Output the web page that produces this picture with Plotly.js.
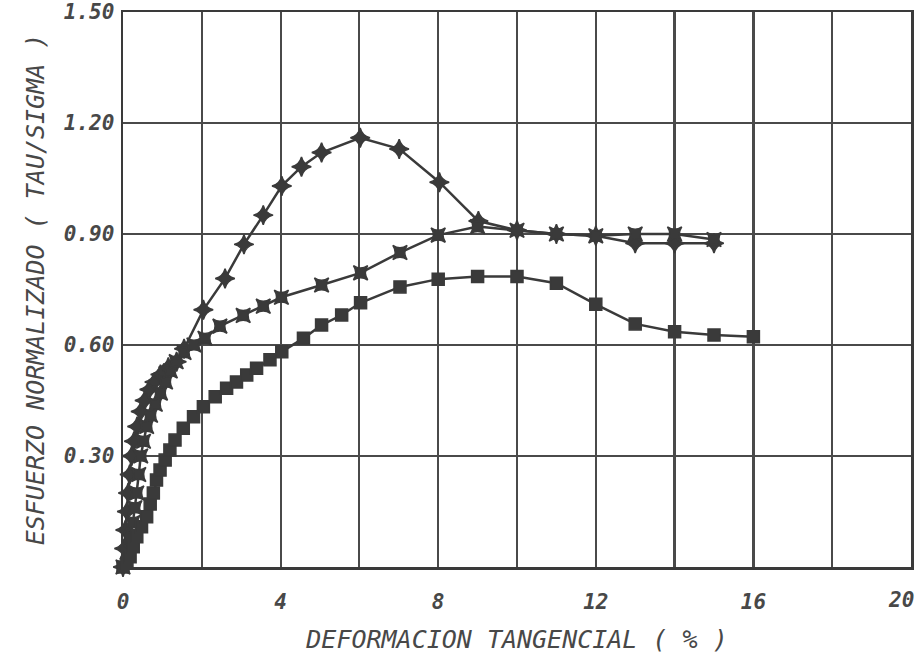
<!DOCTYPE html>
<html>
<head>
<meta charset="utf-8">
<script src="https://cdn.plot.ly/plotly-3.0.1.min.js"></script>
<style>html,body{margin:0;padding:0;background:#fff;}#chart{width:917px;height:662px;}</style>
</head>
<body>
<div id="chart"></div>
<script>
// Series A (asterisk markers, peak ~1.16)
const strainA = [0, 0.03, 0.06, 0.1, 0.13, 0.17, 0.22, 0.28, 0.36, 0.45, 0.55, 0.67, 0.8, 0.95, 1.15, 1.36, 1.55, 2.04, 2.59, 3.07, 3.56, 4.03, 4.53, 5.04, 6.02, 7.01, 8.03, 9.02, 10, 11, 12, 13, 14, 15];
const stressA = [0, 0.05, 0.1, 0.15, 0.2, 0.25, 0.3, 0.34, 0.38, 0.42, 0.45, 0.48, 0.5, 0.52, 0.54, 0.555, 0.59, 0.695, 0.78, 0.872, 0.951, 1.03, 1.082, 1.12, 1.16, 1.13, 1.04, 0.935, 0.91, 0.9, 0.895, 0.875, 0.875, 0.875];
// Series B (star-square markers, plateau ~0.9)
const strainB = [0, 0.1, 0.18, 0.25, 0.3, 0.35, 0.4, 0.45, 0.52, 0.6, 0.7, 0.82, 0.95, 1.08, 1.2, 1.35, 1.55, 1.8, 2.08, 2.46, 3.05, 3.56, 4.02, 5.04, 6.03, 7.03, 8, 9, 10, 11, 12, 13, 14, 15];
const stressB = [0, 0.04, 0.08, 0.12, 0.16, 0.2, 0.25, 0.3, 0.34, 0.38, 0.41, 0.44, 0.47, 0.5, 0.53, 0.555, 0.58, 0.6, 0.618, 0.651, 0.68, 0.705, 0.729, 0.762, 0.795, 0.85, 0.897, 0.92, 0.91, 0.9, 0.895, 0.9, 0.9, 0.885];
// Series C (square markers, lowest)
const strainC = [0, 0.1, 0.18, 0.26, 0.35, 0.47, 0.6, 0.69, 0.77, 0.85, 0.94, 1.07, 1.19, 1.32, 1.53, 1.79, 2.04, 2.34, 2.63, 2.88, 3.14, 3.39, 3.73, 4.03, 4.58, 5.04, 5.55, 6.03, 7.03, 8, 9, 10, 11, 12, 13, 14, 15, 16];
const stressC = [0, 0.01, 0.028, 0.055, 0.082, 0.109, 0.136, 0.17, 0.2, 0.235, 0.262, 0.289, 0.316, 0.343, 0.375, 0.406, 0.433, 0.46, 0.483, 0.5, 0.519, 0.537, 0.56, 0.582, 0.618, 0.654, 0.681, 0.714, 0.757, 0.778, 0.785, 0.785, 0.767, 0.71, 0.657, 0.636, 0.627, 0.622];

const xTickVals = [0, 2, 4, 6, 8, 10, 12, 14, 16, 18, 20];
const xTickText = ['0', '', '4', '', '8', '', '12', '', '16', '', '20'];
const yTickVals = [0.3, 0.6, 0.9, 1.2, 1.5];
const yTickText = ['0.30', '0.60', '0.90', '1.20', '1.50'];

const ink = '#3a3a3a';
const textColor = '#484848';
const monoFam = '"DejaVu Sans Mono", "Liberation Mono", monospace';

function series(x, y, symbol, size) {
  return {
    x: x, y: y, type: 'scatter', mode: 'lines+markers',
    line: {color: ink, width: 2.5},
    marker: {symbol: symbol, size: size, color: ink, line: {color: ink, width: 1.5}},
    showlegend: false, hoverinfo: 'skip', cliponaxis: false
  };
}

const data = [
  series(strainA, stressA, 'star-diamond', 14),
  series(strainB, stressB, 'star-square', 13),
  series(strainC, stressC, 'square', 12)
];

const tickFont = {family: monoFam, size: 21, color: textColor, style: 'italic', weight: 'bold'};
const titleFont = {family: monoFam, size: 25, color: textColor, style: 'italic'};

// last x tick label sits at the right page edge; draw it right-aligned so it stays inside
const lastIdx = xTickVals.length - 1;
const shownXText = xTickText.map((t, i) => (i === lastIdx ? '' : t));

const layout = {
  width: 917, height: 662,
  margin: {l: 123, r: 6, t: 12, b: 95},
  paper_bgcolor: '#ffffff', plot_bgcolor: '#ffffff',
  font: {family: monoFam, color: textColor},
  xaxis: {
    range: [0, 20], tickvals: xTickVals, ticktext: shownXText,
    showgrid: true, gridcolor: '#4a4a4a', gridwidth: 2.2,
    zeroline: false, showline: true, linecolor: '#3a3a3a', linewidth: 2.5, mirror: true,
    ticks: '', ticklabelstandoff: 14, ticklabeloverflow: 'allow',
    tickfont: tickFont,
    title: {text: 'DEFORMACION TANGENCIAL ( % )', standoff: 18, font: titleFont}
  },
  yaxis: {
    range: [0, 1.5], tickvals: yTickVals, ticktext: yTickText,
    showgrid: true, gridcolor: '#4a4a4a', gridwidth: 2.2,
    zeroline: false, showline: true, linecolor: '#3a3a3a', linewidth: 2.5, mirror: true,
    ticks: '', ticklabelstandoff: 2, ticklabeloverflow: 'allow',
    tickfont: tickFont,
    title: {text: 'ESFUERZO NORMALIZADO ( TAU/SIGMA )', standoff: 12, font: titleFont}
  },
  annotations: [{
    xref: 'x', yref: 'paper', x: xTickVals[lastIdx], y: 0,
    xanchor: 'right', yanchor: 'top', xshift: 5, yshift: -19,
    text: xTickText[lastIdx], showarrow: false, font: tickFont
  }]
};

Plotly.newPlot('chart', data, layout, {staticPlot: true, displayModeBar: false});
</script>
</body>
</html>
